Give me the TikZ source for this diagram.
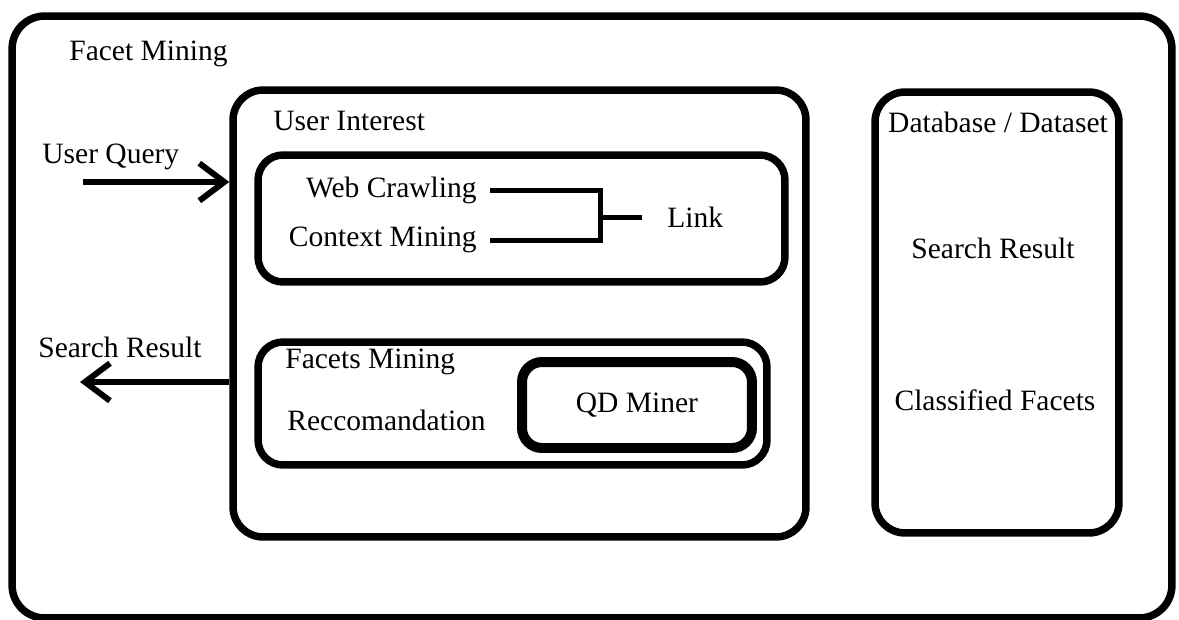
\documentclass[tikz,border=0pt]{standalone}
\usepackage{fontspec}
\setmainfont{Liberation Serif}
\usetikzlibrary{arrows.meta,positioning}

\begin{document}
\begin{tikzpicture}[
    x=0.02cm, y=-0.02cm,
    frame/.style={rectangle, draw, line width=0.15cm, rounded corners=0.55cm, inner sep=0pt},
    txt/.style={inner sep=0pt, font=\fontsize{16.8}{20}\selectfont},
    wire/.style={line width=0.1cm},
    arrow/.style={line width=0.12cm, -{Straight Barb[length=0.5cm,width=0.75cm]}}
]
\useasboundingbox (0,0) rectangle (1179,619);

% frames
\node[frame, minimum width=23.2cm, minimum height=12.04cm, rounded corners=0.65cm] (mining) at (592,317) {};
\node[frame, minimum width=11.46cm, minimum height=8.94cm, rounded corners=0.6cm] (interest) at (519.5,313.5) {};
\node[frame, minimum width=4.88cm, minimum height=8.82cm, rounded corners=0.6cm] (db) at (997,312.5) {};
\node[frame, minimum width=10.54cm, minimum height=2.54cm, rounded corners=0.5cm] (crawlbox) at (521.5,218.5) {};
\node[frame, minimum width=10.18cm, minimum height=2.46cm, rounded corners=0.5cm] (facetbox) at (512.5,403.5) {};
\node[frame, line width=0.2cm, minimum width=4.6cm, minimum height=1.72cm, rounded corners=0.4cm, font=\fontsize{16.8}{20}\selectfont] (qd) at (637,405) {QD Miner};

% texts
\node[txt, anchor=west] (title) at (69,54) {Facet Mining};
\node[txt, anchor=west] (uitext) at (273,121) {User Interest};
\node[txt, anchor=west] (query) at (42,157) {User Query};
\node[txt, anchor=west] (resleft) at (38,347) {Search Result};
\node[txt, anchor=east] (web) at (477,190) {Web Crawling};
\node[txt, anchor=east] (context) at (477,240) {Context Mining};
\node[txt, anchor=west] (link) at (667,217) {Link};
\node[txt, anchor=west] (facets) at (285,362) {Facets Mining};
\node[txt, anchor=west] (recco) at (287,420) {Reccomandation};
\node[txt] (dbtext) at (998,122) {Database / Dataset};
\node[txt] (resright) at (993,248) {Search Result};
\node[txt] (classified) at (995,400) {Classified Facets};

% connectors
\coordinate (join) at (600,217);
\draw[wire, shorten <=0.26cm] (web.east) -| (join);
\draw[wire, shorten <=0.26cm] (context.east) -| (join);
\draw[wire, shorten >=0.5cm] (join) -- (link.west);

\coordinate (qin) at (83,182);
\coordinate (rout) at (80,382);
\draw[arrow] (qin) -- (qin -| interest.west);
\draw[arrow] (rout -| interest.west) -- (rout);
\end{tikzpicture}
\end{document}
